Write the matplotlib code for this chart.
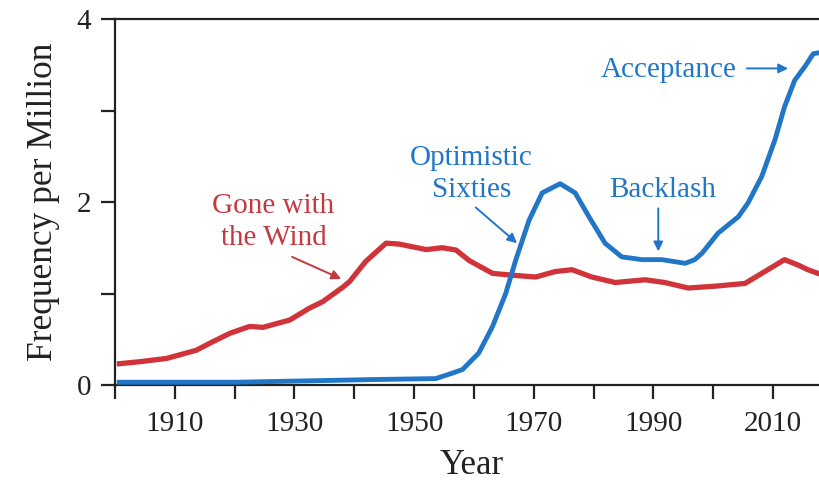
import matplotlib
matplotlib.use("Agg")
import matplotlib.pyplot as plt

plt.rcParams['font.family'] = ['Liberation Serif', 'DejaVu Serif']

# Gone with the Wind (red)
red_years = [1900.3, 1904.2, 1908.6, 1913.6, 1915.8, 1919.2, 1922.5, 1924.7, 1929.2,
             1932.5, 1934.7, 1938.1, 1939.2, 1941.9, 1945.3, 1947.5, 1952.0, 1954.7,
             1957.0, 1959.2, 1963.1, 1966.4, 1970.3, 1973.6, 1976.4, 1979.7, 1983.6,
             1988.6, 1991.9, 1995.8, 2000.3, 2005.3, 2008.6, 2011.9, 2014.2, 2015.8,
             2017.5, 2019.0]
red_vals = [0.23, 0.255, 0.29, 0.38, 0.455, 0.565, 0.64, 0.63, 0.71,
            0.84, 0.91, 1.07, 1.13, 1.35, 1.55, 1.54, 1.48, 1.50,
            1.475, 1.36, 1.22, 1.20, 1.18, 1.24, 1.26, 1.18, 1.12,
            1.15, 1.12, 1.06, 1.08, 1.11, 1.24, 1.37, 1.31, 1.26,
            1.22, 1.20]

# Optimistic Sixties / Backlash / Acceptance (blue)
blue_years = [1900.3, 1920.0, 1943.6, 1953.6, 1956.4, 1958.1, 1960.8, 1963.1, 1965.3,
              1967.0, 1969.2, 1971.4, 1974.4, 1976.9, 1979.2, 1981.9, 1984.7, 1988.1,
              1991.4, 1995.3, 1996.9, 1998.1, 2000.8, 2004.2, 2005.8, 2008.1, 2010.3,
              2011.9, 2013.6, 2015.3, 2016.7, 2017.5, 2019.0]
blue_vals = [0.03, 0.03, 0.06, 0.07, 0.13, 0.17, 0.35, 0.64, 1.00,
             1.37, 1.80, 2.10, 2.20, 2.10, 1.84, 1.55, 1.40, 1.37,
             1.37, 1.33, 1.37, 1.44, 1.66, 1.84, 1.99, 2.28, 2.68,
             3.04, 3.33, 3.48, 3.62, 3.63, 3.62]

x_major = [1910, 1930, 1950, 1970, 1990, 2010]
x_minor = [1900, 1920, 1940, 1960, 1980, 2000]
y_major = [0, 2, 4]
y_minor = [1, 3]

RED = '#d0343a'
RED_TXT = '#c4393f'
BLUE = '#2176c8'

fig = plt.figure(figsize=(8.2, 4.8), dpi=100)
ax = fig.add_axes([115/820, 1 - 385/480, 1 - 115/820 + 0.01, (385 - 19)/480])

ax.plot(red_years, red_vals, color=RED, lw=3.8, solid_joinstyle='round',
        solid_capstyle='butt', zorder=3)
ax.plot(blue_years, blue_vals, color=BLUE, lw=3.5, solid_joinstyle='round',
        solid_capstyle='butt', zorder=3)

ax.set_xlim(1900, 2019.2)
ax.set_ylim(0, 4)
ax.set_xticks(x_major)
ax.set_xticks(x_minor, minor=True)
ax.set_yticks(y_major)
ax.set_yticks(y_minor, minor=True)
ax.tick_params(axis='both', which='both', direction='out', length=10, width=1.6,
               labelsize=21, color='#222222', labelcolor='#222222')
ax.tick_params(axis='x', which='both', pad=9)
ax.tick_params(axis='y', which='both', pad=7)
ax.spines['right'].set_visible(False)
for s in ['left', 'bottom', 'top']:
    ax.spines[s].set_linewidth(1.6)
    ax.spines[s].set_color('#222222')

ax.set_xlabel('Year', fontsize=25, labelpad=8, color='#222222')
ax.set_ylabel('Frequency per Million', fontsize=25.5, labelpad=12, color='#222222')

afs = 21
tk = dict(fontsize=afs, ha='center', va='baseline')
ax.text(1926.5, 1.88, 'Gone with', color=RED_TXT, **tk)
ax.text(1926.5, 1.53, 'the Wind', color=RED_TXT, **tk)
ax.text(1959.6, 2.40, 'Optimistic', color=BLUE, **tk)
ax.text(1959.6, 2.05, 'Sixties', color=BLUE, **tk)
ax.text(1991.5, 2.05, 'Backlash', color=BLUE, **tk)
ax.text(1992.6, 3.37, 'Acceptance', color=BLUE, **tk)

def arrow(x0, y0, x1, y1, c):
    ax.annotate('', xy=(x1, y1), xytext=(x0, y0),
                arrowprops=dict(arrowstyle='-|>', color=c, lw=1.4,
                                mutation_scale=14, shrinkA=0, shrinkB=0))

arrow(1929.6, 1.40, 1937.8, 1.16, RED_TXT)
arrow(1960.3, 1.94, 1967.2, 1.55, BLUE)
arrow(1990.8, 1.93, 1990.8, 1.46, BLUE)
arrow(2005.6, 3.46, 2012.5, 3.46, BLUE)

fig.savefig('out.png', dpi=100)
